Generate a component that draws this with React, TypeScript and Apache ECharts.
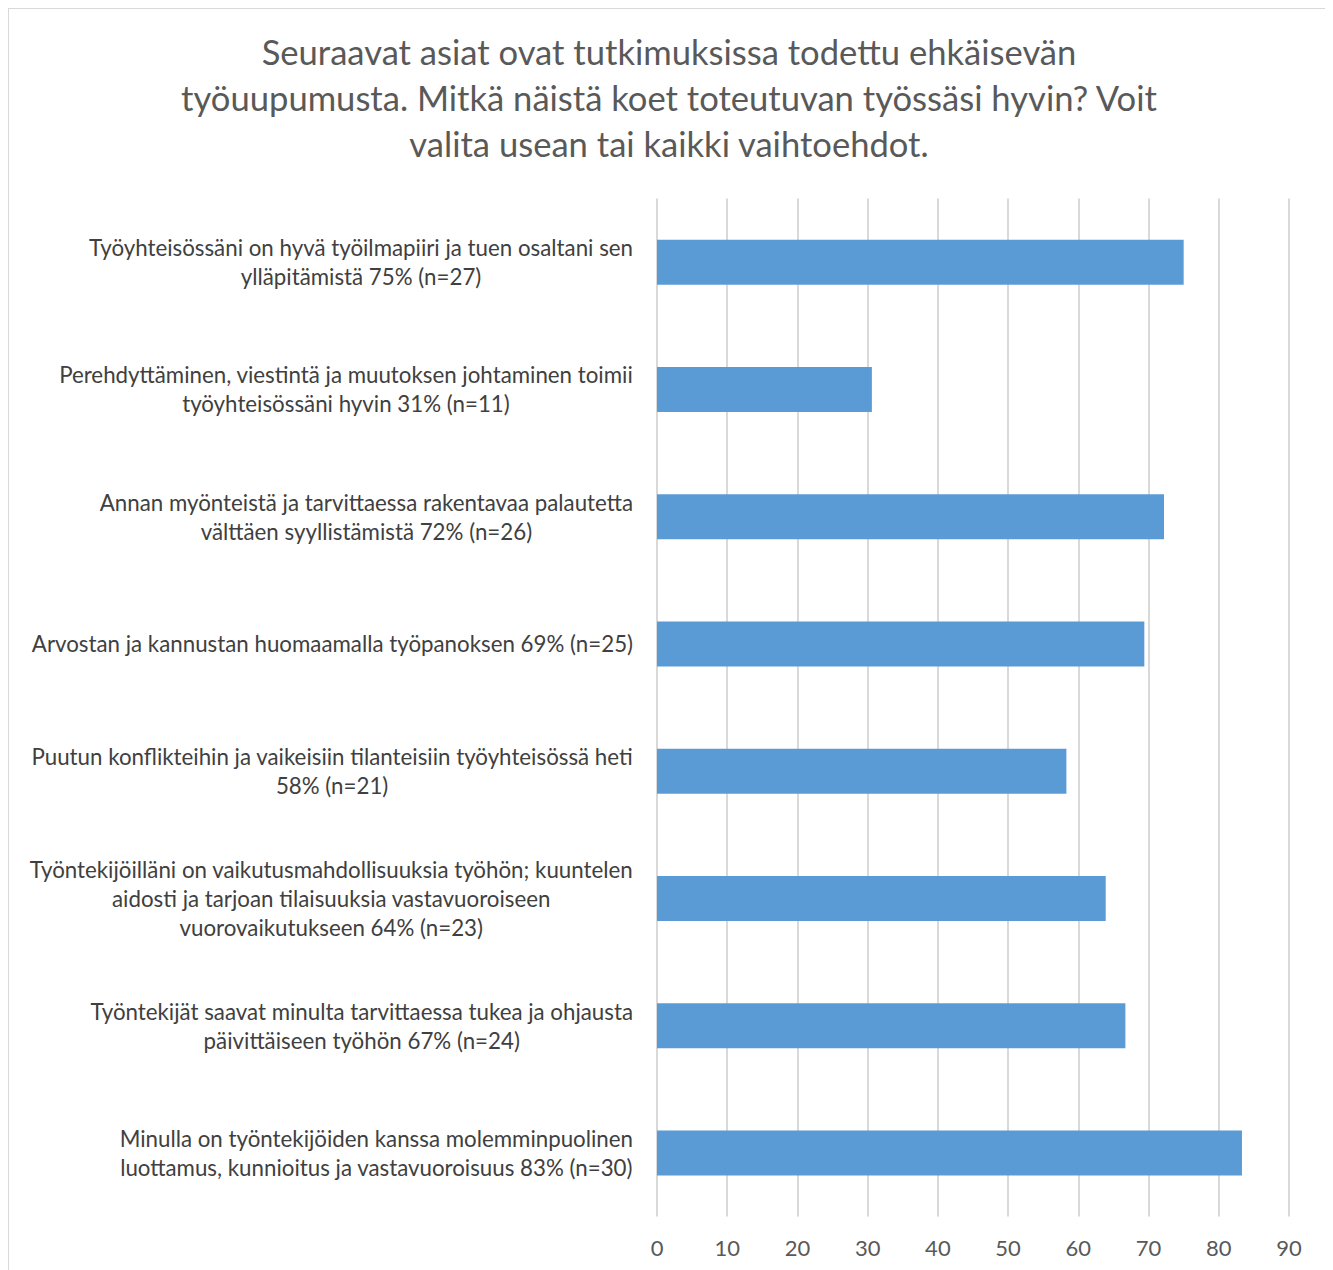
import React, { useEffect, useRef } from "react";
import * as echarts from "echarts";

const titleLines = [
  "Seuraavat asiat ovat tutkimuksissa todettu ehkäisevän",
  "työuupumusta. Mitkä näistä koet toteutuvan työssäsi hyvin? Voit",
  "valita usean tai kaikki vaihtoehdot.",
];

const categories = [
  "Työyhteisössäni on hyvä työilmapiiri ja tuen osaltani sen\nylläpitämistä 75% (n=27)",
  "Perehdyttäminen, viestintä ja muutoksen johtaminen toimii\ntyöyhteisössäni hyvin 31% (n=11)",
  "Annan myönteistä ja tarvittaessa rakentavaa palautetta\nvälttäen syyllistämistä 72% (n=26)",
  "Arvostan ja kannustan huomaamalla työpanoksen 69% (n=25)",
  "Puutun konflikteihin ja vaikeisiin tilanteisiin työyhteisössä heti\n58% (n=21)",
  "Työntekijöilläni on vaikutusmahdollisuuksia työhön; kuuntelen\naidosti ja tarjoan tilaisuuksia vastavuoroiseen\nvuorovaikutukseen 64% (n=23)",
  "Työntekijät saavat minulta tarvittaessa tukea ja ohjausta\npäivittäiseen työhön 67% (n=24)",
  "Minulla on työntekijöiden kanssa molemminpuolinen\nluottamus, kunnioitus ja vastavuoroisuus 83% (n=30)",
];

const values = [75, 30.6, 72.2, 69.4, 58.3, 63.9, 66.7, 83.3];

const FONT = "Lato, 'Open Sans', sans-serif";

export default function App() {
  const ref = useRef<HTMLDivElement>(null);
  useEffect(() => {
    document.documentElement.style.overflow = "hidden";
    if (!ref.current) return;
    const chart = echarts.init(ref.current, undefined, { renderer: "svg" });
    chart.setOption({
      animation: false,
      backgroundColor: "#ffffff",
      title: {
        text: titleLines.join("\n"),
        left: "center",
        top: 14,
        textStyle: {
          color: "#595959",
          fontSize: 34.6,
          lineHeight: 46,
          fontWeight: "normal",
          fontFamily: FONT,
          align: "center",
        },
      },
      grid: { left: 648, top: 189.5, width: 632, height: 1018, containLabel: false },
      xAxis: {
        type: "value",
        min: 0,
        max: 90,
        interval: 10,
        axisLine: { show: false },
        axisTick: { show: false },
        splitLine: { show: true, lineStyle: { color: "#d9d9d9", width: 2 } },
        axisLabel: { color: "#595959", fontSize: 22, fontFamily: FONT, margin: 20 },
      },
      yAxis: {
        type: "category",
        inverse: true,
        data: categories,
        axisLine: { show: false },
        axisTick: { show: false },
        axisLabel: {
          margin: 24,
          color: "#404040",
          fontFamily: FONT,
          fontSize: 22.3,
          lineHeight: 29,
          formatter: (v: string) =>
            v
              .split("\n")
              .map((l) => `{c|${l}}`)
              .join("\n"),
          rich: {
            c: {
              align: "center",
              color: "#404040",
              fontFamily: FONT,
              fontSize: 22.3,
              lineHeight: 29,
            },
          },
        },
      },
      series: [
        {
          type: "bar",
          data: values,
          barWidth: 45,
          itemStyle: { color: "#5b9bd5" },
        },
      ],
    });
    return () => chart.dispose();
  }, []);
  return (
    <div
      style={{
        width: 1320,
        height: 1280,
        border: "1px solid #d9d9d9",
        background: "#fff",
      }}
    >
      <div ref={ref} style={{ width: 1320, height: 1280 }} />
    </div>
  );
}
